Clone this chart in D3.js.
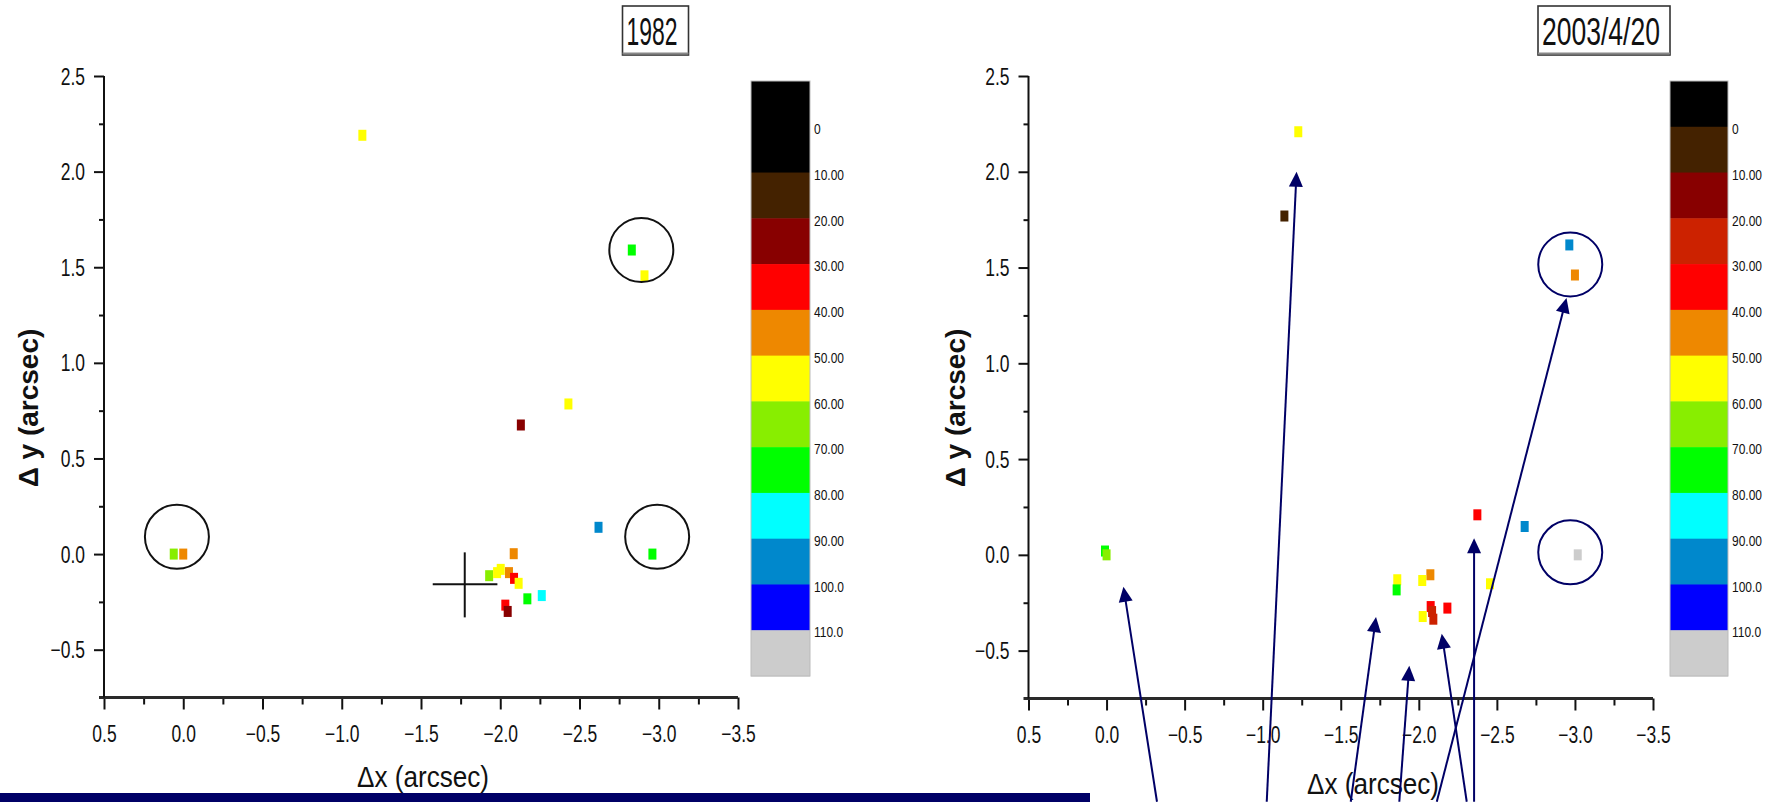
<!DOCTYPE html>
<html>
<head>
<meta charset="utf-8">
<script src="https://cdn.jsdelivr.net/npm/d3@7"></script>
<style>
  html, body { margin: 0; padding: 0; background: #fff; }
  svg { display: block; }
  text { font-family: "Liberation Sans", Arial, Helvetica, sans-serif; fill: #111; }
</style>
</head>
<body>
<svg id="chart" width="1776" height="802"></svg>
<script>
// ---- colour levels (shared by both colour bars) ----
const levelThresholds = [0, 10, 20, 30, 40, 50, 60, 70, 80, 90, 100, 110];
const levelLabels = ["0", "10.00", "20.00", "30.00", "40.00", "50.00", "60.00", "70.00", "80.00", "90.00", "100.0", "110.0"];
const colors1982 = ["#000000", "#000000", "#442200", "#880000", "#ff0000", "#ee8800", "#ffff00",
                    "#88ee00", "#00ff00", "#00ffff", "#0088cc", "#0000ff", "#cccccc"];
const colors2003 = ["#000000", "#442200", "#880000", "#cc2200", "#ff0000", "#ee8800", "#ffff00",
                    "#88ee00", "#00ff00", "#00ffff", "#0088cc", "#0000ff", "#cccccc"];

// ---- axis ticks ----
const xTicks = [0.5, 0.0, -0.5, -1.0, -1.5, -2.0, -2.5, -3.0, -3.5];
const xMinorTicks = [0.25, -0.25, -0.75, -1.25, -1.75, -2.25, -2.75, -3.25];
const yTicks = [-0.5, 0.0, 0.5, 1.0, 1.5, 2.0, 2.5];
const yMinorTicks = [-0.25, 0.25, 0.75, 1.25, 1.75, 2.25];
const xDomain = [0.5, -3.5];
const yDomain = [-0.75, 2.5];

// ---- 1982 epoch: offsets (arcsec) and level values ----
const dx1982 = [-1.13, -2.83, -2.91, -2.43, -2.13, -2.62, -2.96, 0.06, 0.00, -2.085,
                -1.93, -1.98, -2.003, -2.055, -2.087, -2.116, -2.171, -2.262, -2.032, -2.047];
const dy1982 = [2.19, 1.59, 1.455, 0.785, 0.675, 0.14, 0.0, 0.0, 0.0, 0.002,
                -0.113, -0.097, -0.08, -0.097, -0.127, -0.153, -0.234, -0.217, -0.267, -0.300];
const v1982  = [55, 75, 55, 55, 25, 95, 75, 65, 45, 45,
                65, 55, 55, 45, 35, 55, 75, 85, 35, 25];

// highlighted positions (1982)
const ring1982X = [0.04, -2.99, -2.89];
const ring1982Y = [0.09, 0.09, 1.59];
// reference cross (1982)
const crossCenter = [-1.776, -0.158];
const crossXSpan = [-1.574, -1.982];
const crossYSpan = [0.009, -0.331];

// ---- 2003/4/20 epoch ----
const dx2003 = [-1.228, -1.139, -2.964, -3.0, 0.01, 0.0, -2.375, -2.678, -3.018, -2.456,
                -2.074, -2.022, -1.862, -1.858, -2.076, -2.183, -2.025, -2.085, -2.093];
const dy2003 = [2.209, 1.769, 1.618, 1.461, 0.02, 0.0, 0.209, 0.148, 0.0, -0.151,
                -0.104, -0.134, -0.130, -0.183, -0.270, -0.278, -0.322, -0.296, -0.336];
const v2003  = [55, 5, 95, 45, 75, 65, 35, 95, 115, 55,
                45, 55, 55, 75, 35, 35, 55, 25, 25];

const ring2003X = [-2.97, -2.97];
const ring2003Y = [1.516, 0.013];

// annotation arrows (2003): tail -> tip, in arcsec
const arrowTailX = [-0.323, -1.026, -1.564, -1.875, -2.307, -2.354, -2.115];
const arrowTailY = [-1.289, -1.289, -1.289, -1.289, -1.289, -1.289, -1.289];
const arrowTipX  = [-0.108, -1.217, -1.726, -1.939, -2.147, -2.354, -2.946];
const arrowTipY  = [-0.167, 2.000, -0.325, -0.579, -0.412, 0.087, 1.341];

const NAVY = "#000066";
const svg = d3.select("#chart");

// bottom band under the first panel
svg.append("rect").attr("x", 0).attr("y", 793).attr("width", 1090).attr("height", 9).attr("fill", NAVY);

function drawPanel(cfg) {
  const g = svg.append("g");
  const x = d3.scaleLinear().domain(xDomain).range(cfg.xRange);
  const y = d3.scaleLinear().domain(yDomain).range(cfg.yRange);
  const color = d3.scaleThreshold().domain(levelThresholds).range(cfg.colors);
  const fmt = d3.format(".1f");
  const y0 = cfg.yRange[0];

  // x axis
  const xa = g.append("g").attr("transform", `translate(0,${y0})`)
    .call(d3.axisBottom(x).tickValues(xTicks).tickSize(12).tickFormat(fmt));
  xa.select(".domain").remove();
  xa.selectAll(".tick line").attr("stroke", "#111").attr("stroke-width", 2);
  xa.selectAll(".tick text")
    .attr("y", 0).attr("dy", 0)
    .attr("transform", "translate(0,44) scale(0.76,1)")
    .attr("font-size", 23).attr("fill", "#111")
    .attr("font-family", '"Liberation Sans", Arial, sans-serif');
  g.append("g").attr("transform", `translate(0,${y0})`)
    .call(d3.axisBottom(x).tickValues(xMinorTicks).tickSize(7).tickFormat(""))
    .call(s => s.select(".domain").remove())
    .selectAll(".tick line").attr("stroke", "#111").attr("stroke-width", 2);
  g.append("line")
    .attr("x1", cfg.xRange[0] - 5).attr("x2", cfg.xRange[1])
    .attr("y1", y0).attr("y2", y0)
    .attr("stroke", "#2a2a2a").attr("stroke-width", 3);

  // y axis
  const ya = g.append("g").attr("transform", `translate(${cfg.xRange[0]},0)`)
    .call(d3.axisLeft(y).tickValues(yTicks).tickSize(10).tickFormat(fmt));
  ya.select(".domain").remove();
  ya.selectAll(".tick line").attr("stroke", "#111").attr("stroke-width", 2);
  ya.selectAll(".tick text")
    .attr("x", 0).attr("dy", "0.35em")
    .attr("text-anchor", "end")
    .attr("transform", "translate(-19,0) scale(0.76,1)")
    .attr("font-size", 23).attr("fill", "#111")
    .attr("font-family", '"Liberation Sans", Arial, sans-serif');
  g.append("g").attr("transform", `translate(${cfg.xRange[0]},0)`)
    .call(d3.axisLeft(y).tickValues(yMinorTicks).tickSize(5).tickFormat(""))
    .call(s => s.select(".domain").remove())
    .selectAll(".tick line").attr("stroke", "#111").attr("stroke-width", 2);
  g.append("line")
    .attr("x1", cfg.xRange[0]).attr("x2", cfg.xRange[0])
    .attr("y1", y(2.5)).attr("y2", y0)
    .attr("stroke", "#111").attr("stroke-width", 2);

  // axis titles
  g.append("text")
    .attr("x", cfg.xLabelX).attr("y", cfg.xLabelY)
    .attr("text-anchor", "middle")
    .attr("font-size", 30)
    .attr("textLength", 132).attr("lengthAdjust", "spacingAndGlyphs")
    .text("Δx (arcsec)");
  g.append("text")
    .attr("transform", `translate(${cfg.yLabelX},408) rotate(-90)`)
    .attr("text-anchor", "middle")
    .attr("dy", "0.35em")
    .attr("font-size", 28).attr("font-weight", "bold")
    .text("Δ y (arcsec)");

  // epoch title box
  const tb = cfg.titleBox;
  g.append("rect").attr("x", tb[0]).attr("y", tb[1]).attr("width", tb[2]).attr("height", tb[3])
    .attr("fill", "#fff").attr("stroke", "#333").attr("stroke-width", 1.6);
  g.append("line").attr("x1", tb[0]).attr("x2", tb[0] + tb[2]).attr("y1", tb[1] + tb[3] - 1.5).attr("y2", tb[1] + tb[3] - 1.5)
    .attr("stroke", "#888").attr("stroke-width", 2);
  g.append("text")
    .attr("x", cfg.titleX).attr("y", tb[1] + 39)
    .attr("text-anchor", "middle")
    .attr("font-size", 38)
    .attr("textLength", cfg.titleWidth).attr("lengthAdjust", "spacingAndGlyphs")
    .text(cfg.title);

  // colour bar
  const slots = d3.range(cfg.colors.length);
  const cb = d3.scaleBand().domain(slots).range([81, 676]).paddingInner(0);
  g.append("g").selectAll("rect").data(slots).join("rect")
    .attr("x", cfg.cbX).attr("width", cfg.cbW)
    .attr("y", d => cb(d)).attr("height", cb.bandwidth() + 0.5)
    .attr("fill", d => cfg.colors[d]);
  g.append("rect").attr("x", cfg.cbX).attr("y", 81).attr("width", cfg.cbW).attr("height", 595)
    .attr("fill", "none").attr("stroke", "#bbb").attr("stroke-width", 1);
  g.append("g").selectAll("text").data(levelLabels).join("text")
    .attr("transform", (d, i) => `translate(${cfg.cbX + cfg.cbW + 4},${cb(i + 1) + 2}) scale(0.8,1)`)
    .attr("dy", "0.35em")
    .attr("font-size", 15)
    .text(d => d);

  return { g, x, y, color };
}

// ---------- panel 1: 1982 ----------
const p1 = drawPanel({
  title: "1982", titleWidth: 51, titleX: 652, titleBox: [622.5, 6, 66, 49],
  xRange: [104, 738], yRange: [697.5, 76],
  colors: colors1982, cbX: 751, cbW: 59,
  xLabelX: 423, xLabelY: 787, yLabelX: 28.5
});
p1.g.append("g").selectAll("rect").data(d3.range(dx1982.length)).join("rect")
  .attr("x", i => p1.x(dx1982[i]) - 4).attr("y", i => p1.y(dy1982[i]) - 5.5)
  .attr("width", 8).attr("height", 11)
  .attr("fill", i => p1.color(v1982[i]));
p1.g.append("g").selectAll("circle").data(d3.range(ring1982X.length)).join("circle")
  .attr("cx", i => p1.x(ring1982X[i])).attr("cy", i => p1.y(ring1982Y[i]))
  .attr("r", 32).attr("fill", "none").attr("stroke", "#111").attr("stroke-width", 2);
p1.g.append("line")
  .attr("x1", p1.x(crossXSpan[0])).attr("x2", p1.x(crossXSpan[1]))
  .attr("y1", p1.y(crossCenter[1])).attr("y2", p1.y(crossCenter[1]))
  .attr("stroke", "#111").attr("stroke-width", 2);
p1.g.append("line")
  .attr("x1", p1.x(crossCenter[0])).attr("x2", p1.x(crossCenter[0]))
  .attr("y1", p1.y(crossYSpan[0])).attr("y2", p1.y(crossYSpan[1]))
  .attr("stroke", "#111").attr("stroke-width", 2);

// ---------- panel 2: 2003/4/20 ----------
const p2 = drawPanel({
  title: "2003/4/20", titleWidth: 118, titleX: 1601, titleBox: [1538, 6, 132, 49],
  xRange: [1028.5, 1653], yRange: [698.5, 76],
  colors: colors2003, cbX: 1670, cbW: 58,
  xLabelX: 1373, xLabelY: 794, yLabelX: 955
});
p2.g.append("g").selectAll("rect").data(d3.range(dx2003.length)).join("rect")
  .attr("x", i => p2.x(dx2003[i]) - 4).attr("y", i => p2.y(dy2003[i]) - 5.5)
  .attr("width", 8).attr("height", 11)
  .attr("fill", i => p2.color(v2003[i]));
p2.g.append("g").selectAll("circle").data(d3.range(ring2003X.length)).join("circle")
  .attr("cx", i => p2.x(ring2003X[i])).attr("cy", i => p2.y(ring2003Y[i]))
  .attr("r", 32).attr("fill", "none").attr("stroke", NAVY).attr("stroke-width", 2);

// arrows: shaft stops at the arrowhead base, head drawn as a triangle
const headLen = 15, headHalf = 7;
const arrows = p2.g.append("g");
d3.range(arrowTipX.length).forEach(i => {
  const x1 = p2.x(arrowTailX[i]), y1 = p2.y(arrowTailY[i]);
  const x2 = p2.x(arrowTipX[i]), y2 = p2.y(arrowTipY[i]);
  const len = Math.hypot(x2 - x1, y2 - y1);
  const ux = (x2 - x1) / len, uy = (y2 - y1) / len;
  const bx = x2 - ux * headLen, by = y2 - uy * headLen;
  arrows.append("line")
    .attr("x1", x1).attr("y1", y1).attr("x2", bx + ux * 2).attr("y2", by + uy * 2)
    .attr("stroke", NAVY).attr("stroke-width", 2);
  arrows.append("path")
    .attr("d", `M${x2},${y2}L${bx - uy * headHalf},${by + ux * headHalf}L${bx + uy * headHalf},${by - ux * headHalf}Z`)
    .attr("fill", NAVY);
});
</script>
</body>
</html>
